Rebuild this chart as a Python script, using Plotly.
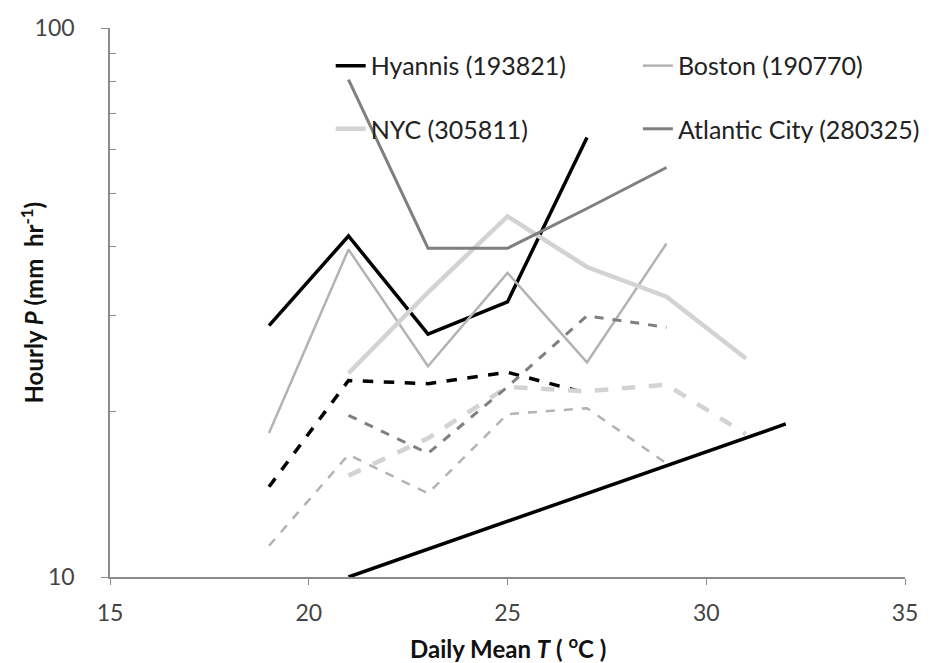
import plotly.graph_objects as go

# Daily mean temperature bins (°C)
t_hyannis = [19, 21, 23, 25, 27]
t_boston = [19, 21, 23, 25, 27, 29]
t_nyc = [21, 23, 25, 27, 29, 31]
t_ac = [21, 23, 25, 27, 29]

# Upper (solid) curves, hourly P (mm/hr)
p_hyannis = [28.7, 41.8, 27.7, 31.7, 63.2]
p_boston = [18.3, 39.5, 24.2, 35.8, 24.6, 40.5]
p_nyc = [23.5, 33.0, 45.4, 36.7, 32.4, 25.0]
p_ac = [80.5, 39.7, 39.7, 46.9, 55.7]

# Lower (dashed) curves
p_hyannis_d = [14.6, 22.8, 22.5, 23.6, 21.6]
p_boston_d = [11.4, 16.7, 14.2, 19.8, 20.3, 16.1]
p_nyc_d = [15.3, 17.9, 22.2, 21.8, 22.4, 18.2]
p_ac_d = [19.7, 16.8, 22.2, 29.9, 28.5]

# Reference scaling line
t_ref = [21, 32]
p_ref = [10.0, 19.0]

names = ["Hyannis (193821)", "Boston (190770)", "NYC (305811)", "Atlantic City (280325)"]
x_title = "Daily Mean <i>T</i> ( <sup>o</sup>C )"
y_title = "Hourly <i>P</i> (mm  hr<sup>-1</sup>)"

C_H, C_B, C_N, C_A = "#000000", "#b3b3b3", "#d3d3d3", "#7f7f7f"

fig = go.Figure()

solid = [
    (t_hyannis, p_hyannis, C_H, 3.5, names[0], "legend"),
    (t_boston, p_boston, C_B, 2.5, names[1], "legend2"),
    (t_nyc, p_nyc, C_N, 4.5, names[2], "legend3"),
    (t_ac, p_ac, C_A, 3.0, names[3], "legend4"),
]
for x, y, c, w, n, lg in solid:
    fig.add_trace(go.Scatter(x=x, y=y, mode="lines", name=n, legend=lg,
                             line=dict(color=c, width=w)))

dashed = [
    (t_hyannis, p_hyannis_d, C_H, 3.5),
    (t_boston, p_boston_d, C_B, 2.5),
    (t_nyc, p_nyc_d, C_N, 4.5),
    (t_ac, p_ac_d, C_A, 3.0),
]
for x, y, c, w in dashed:
    fig.add_trace(go.Scatter(x=x, y=y, mode="lines", showlegend=False,
                             line=dict(color=c, width=w, dash="dash")))

fig.add_trace(go.Scatter(x=t_ref, y=p_ref, mode="lines", showlegend=False,
                         line=dict(color="#000000", width=3.5)))

FONT = "Lato, Open Sans, sans-serif"
leg_font = dict(family=FONT, size=25, color="#222")
def leg(x, y):
    return dict(x=x, y=y, xanchor="left", yanchor="middle", bgcolor="rgba(0,0,0,0)",
                font=leg_font, itemwidth=30)

fig.update_layout(
    width=929, height=663,
    margin=dict(l=102, r=20, t=20, b=94),
    paper_bgcolor="white", plot_bgcolor="white",
    legend=leg(0.2776, 0.931),
    legend2=leg(0.664, 0.931),
    legend3=leg(0.2776, 0.816),
    legend4=leg(0.664, 0.816),
    xaxis=dict(
        range=[15, 35], dtick=5, tick0=15, automargin=False,
        showline=True, linecolor="#8c8c8c", linewidth=1.5,
        ticks="outside", ticklen=6, tickcolor="#8c8c8c",
        showgrid=False, zeroline=False, ticklabelstandoff=9,
        tickfont=dict(family=FONT, size=23, color="#444"),
    ),
    yaxis=dict(
        type="log", range=[1, 2], automargin=False,
        tickvals=[10, 100], ticktext=["10", "100"],
        showline=True, linecolor="#8c8c8c", linewidth=1.5,
        ticks="outside", ticklen=7, tickcolor="#8c8c8c",
        showgrid=True, gridcolor="#9a9a9a", gridwidth=1.5,
        zeroline=False, ticklabelstandoff=22,
        minor=dict(tickvals=[20, 30, 40, 50, 60, 70, 80, 90], ticks="inside",
                   ticklen=6, tickcolor="#8c8c8c", showgrid=False),
        tickfont=dict(family=FONT, size=23, color="#444"),
    ),
    annotations=[
        dict(text="<b>" + x_title + "</b>", xref="paper", yref="paper",
             x=0.5, y=-0.128, xanchor="center", yanchor="middle", showarrow=False,
             font=dict(family=FONT, size=24, color="#111")),
        dict(text="<b>" + y_title + "</b>", xref="paper", yref="paper",
             x=0, y=0.5, xshift=-79, xanchor="center", yanchor="middle",
             textangle=-90, showarrow=False,
             font=dict(family=FONT, size=24, color="#111")),
    ],
)

fig.write_html("out.html")
